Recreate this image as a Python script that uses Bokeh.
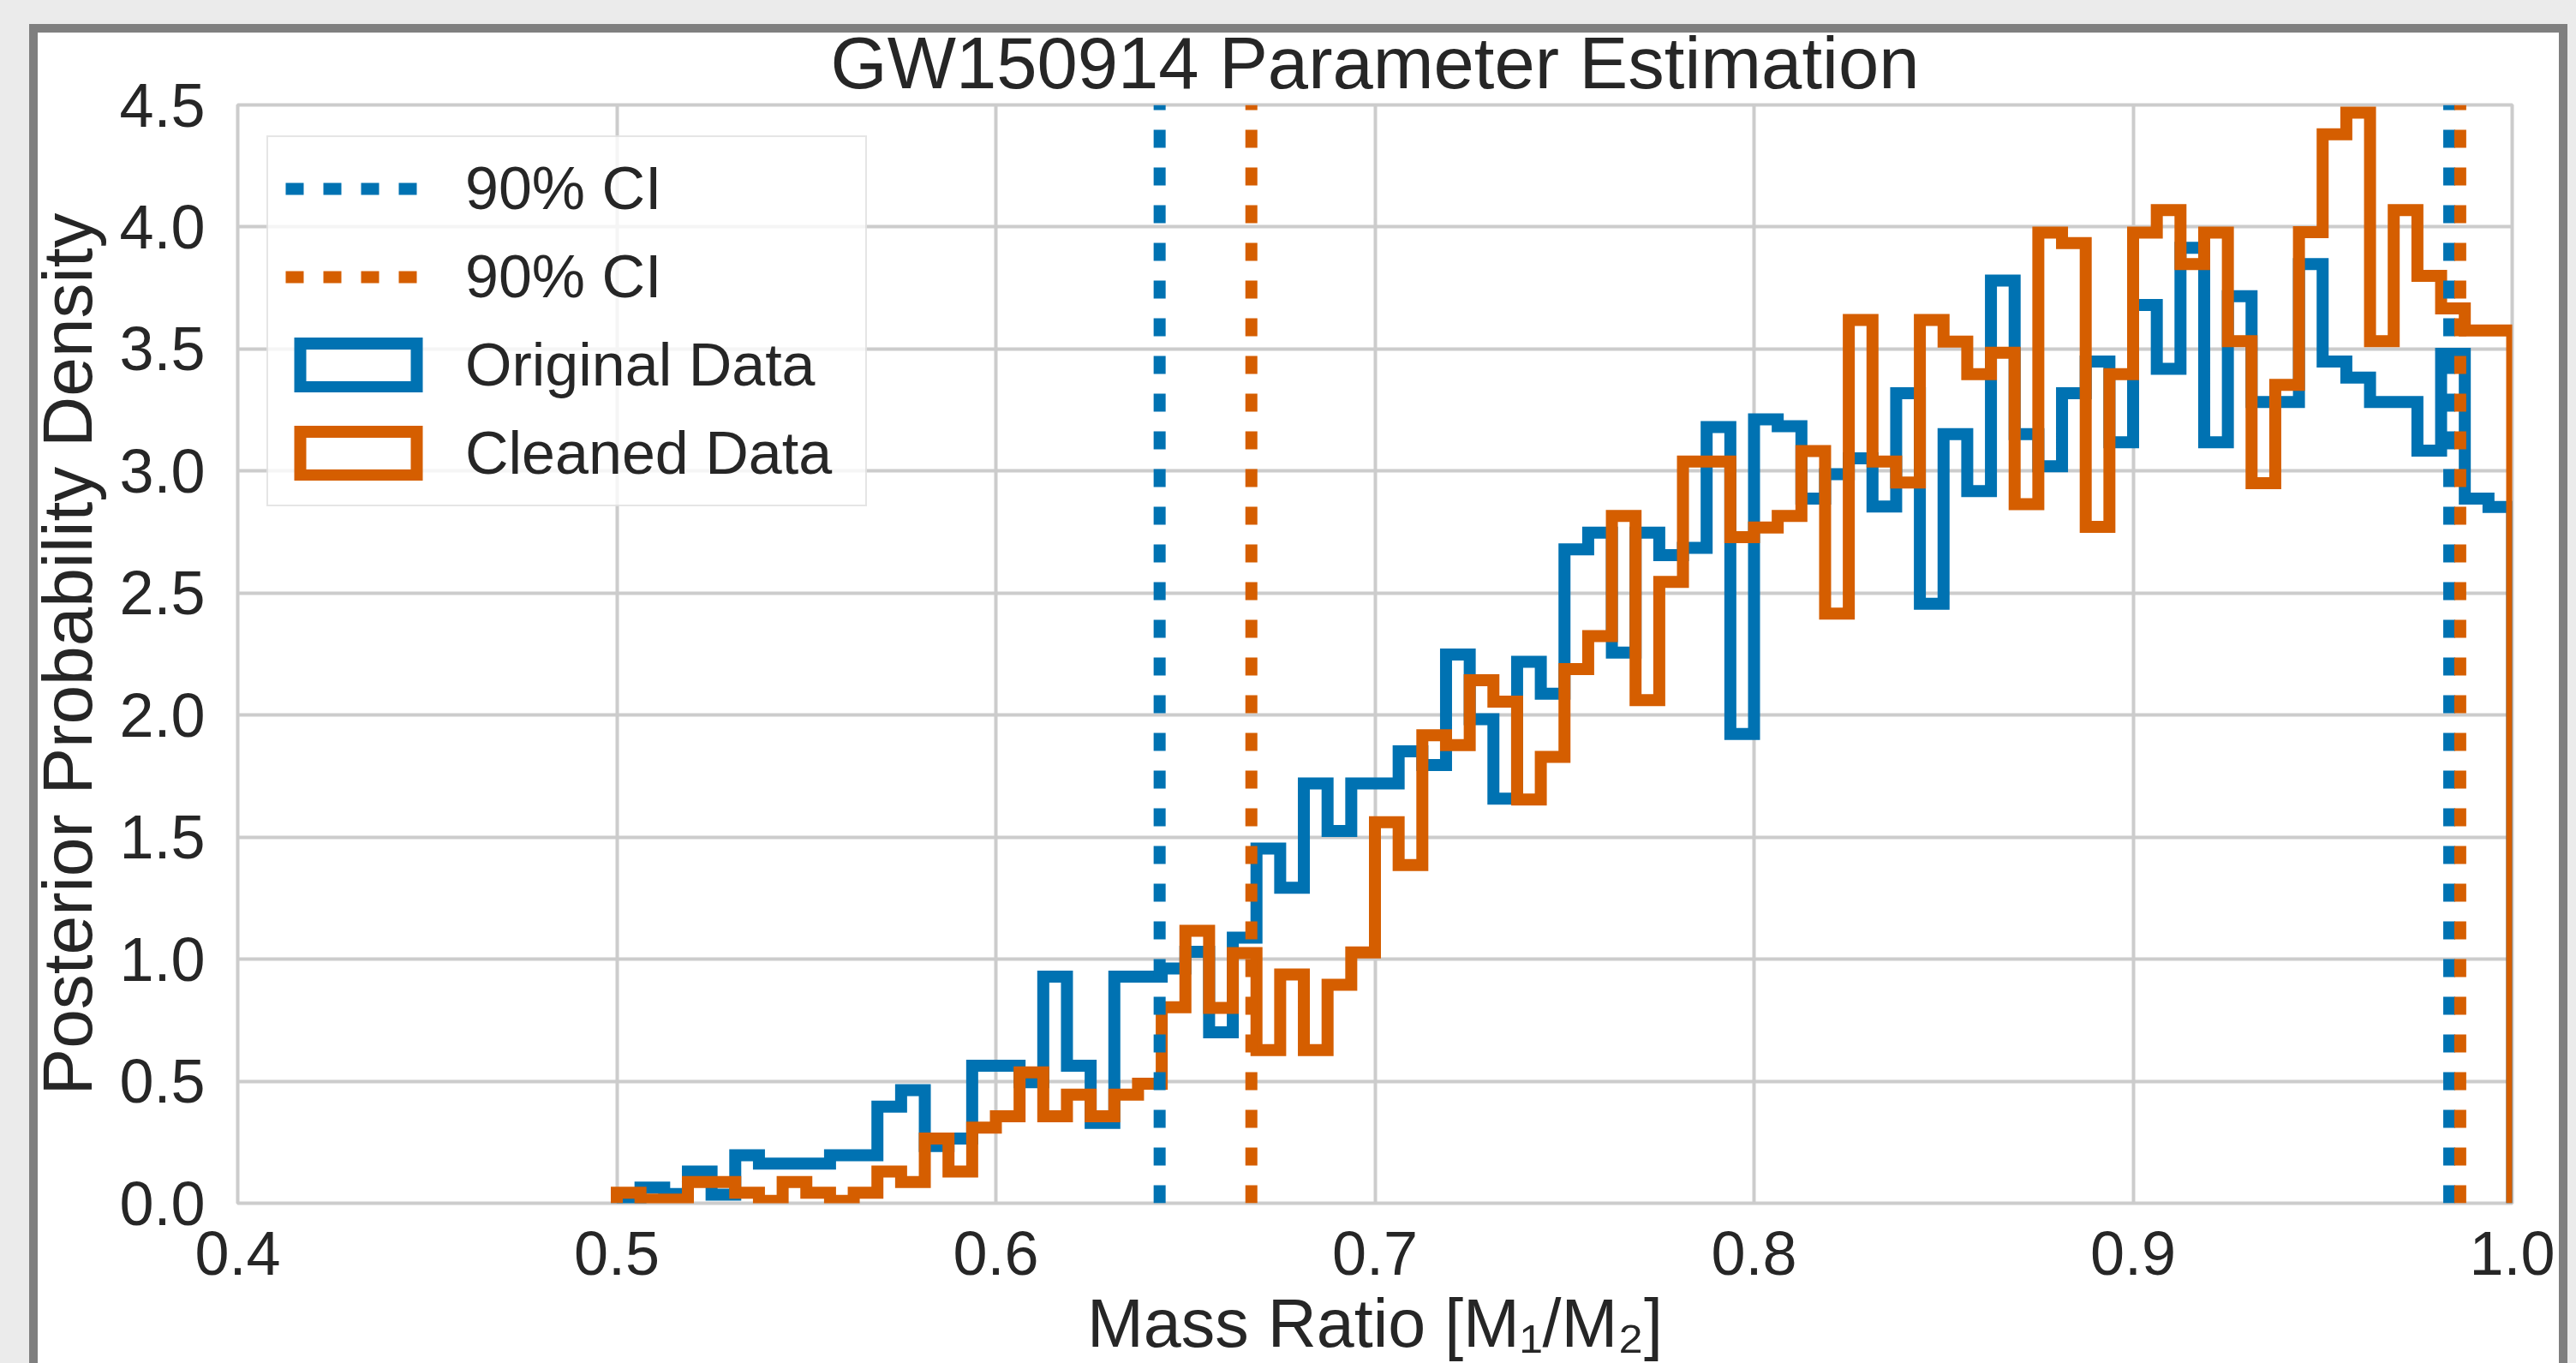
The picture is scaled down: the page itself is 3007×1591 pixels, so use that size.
import numpy as np
from bokeh.plotting import figure
from bokeh.models import (Range1d, FixedTicker, NumeralTickFormatter, Legend, LegendItem,
                          ColumnDataSource)
from bokeh.embed import file_html
from bokeh.resources import INLINE

# ---------------- data ----------------
bin_lo = 0.5
bin_hi = 1.0
n_bins = 80

original = [0.015, 0.064, 0.038, 0.13, 0.035, 0.197, 0.162, 0.162, 0.162, 0.197,
            0.197, 0.396, 0.463, 0.234, 0.265, 0.563, 0.563, 0.496, 0.928, 0.563,
            0.329, 0.928, 0.928, 0.962, 1.03, 0.70, 1.088, 1.453, 1.293, 1.72,
            1.525, 1.72, 1.72, 1.852, 1.795, 2.248, 1.983, 1.658, 2.218, 2.088,
            2.679, 2.748, 2.256, 2.748, 2.655, 2.685, 3.18, 1.923, 3.212, 3.184,
            2.887, 2.987, 3.052, 2.855, 3.319, 2.456, 3.151, 2.918, 3.78, 3.151,
            3.02, 3.319, 3.449, 3.118, 3.68, 3.419, 3.915, 3.118, 3.716, 3.283,
            3.283, 3.848, 3.449, 3.383, 3.283, 3.283, 3.084, 3.48, 2.887, 2.853]

cleaned = [0.043, 0.015, 0.015, 0.087, 0.087, 0.043, 0.01, 0.087, 0.043, 0.01,
           0.043, 0.13, 0.087, 0.265, 0.13, 0.31, 0.356, 0.536, 0.356, 0.445,
           0.356, 0.445, 0.49, 0.803, 1.116, 0.80, 1.025, 0.627, 0.937, 0.627,
           0.895, 1.028, 1.561, 1.386, 1.917, 1.877, 2.143, 2.055, 1.654, 1.829,
           2.189, 2.324, 2.816, 2.061, 2.546, 3.039, 3.039, 2.729, 2.769, 2.816,
           3.082, 2.416, 3.619, 3.039, 2.953, 3.619, 3.53, 3.397, 3.485, 2.864,
           3.977, 3.934, 2.771, 3.397, 3.977, 4.069, 3.848, 3.977, 3.532, 2.95,
           3.353, 3.979, 4.38, 4.468, 3.532, 4.069, 3.8, 3.666, 3.576, 3.576]

ci_original = [0.6432, 0.9834]
ci_cleaned = [0.6674, 0.9863]

x_ticks = [0.4, 0.5, 0.6, 0.7, 0.8, 0.9, 1.0]
y_ticks = [0.0, 0.5, 1.0, 1.5, 2.0, 2.5, 3.0, 3.5, 4.0, 4.5]

series_labels = ["Original Data", "Cleaned Data"]
ci_label = "90% CI"
title_text = "GW150914 Parameter Estimation"
x_label = "Mass Ratio [M\u2081/M\u2082]"
y_label = "Posterior Probability Density"

BLUE = "#0072b2"
ORANGE = "#d55e00"
TEXT = "#262626"
GRID = "#cccccc"
FONT = "Liberation Sans"

edges = np.linspace(bin_lo, bin_hi, n_bins + 1)


def step_outline(vals):
    xs = [edges[0]]
    ys = [0.0]
    for i, v in enumerate(vals):
        xs += [edges[i], edges[i + 1]]
        ys += [v, v]
    xs.append(edges[-1])
    ys.append(0.0)
    return xs, ys


x_lo, x_hi = x_ticks[0], x_ticks[-1]
y_lo, y_hi = y_ticks[0], y_ticks[-1]

p = figure(width=3007, height=1591, output_backend="svg", toolbar_location=None,
           x_range=Range1d(x_lo, x_hi), y_range=Range1d(y_lo, y_hi),
           min_border_left=277, min_border_right=75, min_border_top=122, min_border_bottom=186)

# page look: light grey surround, grey frame and white figure panel (painted behind a transparent canvas)
p.styles = {
    "background-image": ("linear-gradient(#ffffff, #ffffff), "
                         "linear-gradient(#7f7f7f, #7f7f7f), "
                         "linear-gradient(#ebebeb, #ebebeb)"),
    "background-position": "44px 38px, 34px 28px, 0px 0px",
    "background-size": "2943px 1600px, 2963px 1600px, 100% 100%",
    "background-repeat": "no-repeat",
}
p.border_fill_alpha = 0.0
p.background_fill_color = "white"
p.outline_line_color = GRID
p.outline_line_width = 4

# title
p.title.text = title_text
p.title.align = "center"
p.title.text_font = FONT
p.title.text_font_size = "85px"
p.title.text_font_style = "normal"
p.title.text_color = TEXT
p.title.standoff = 3

# axes
p.xaxis.ticker = FixedTicker(ticks=x_ticks)
p.yaxis.ticker = FixedTicker(ticks=y_ticks)
p.xaxis.formatter = NumeralTickFormatter(format="0.0")
p.yaxis.formatter = NumeralTickFormatter(format="0.0")
for ax in (p.xaxis, p.yaxis):
    ax.axis_line_color = None
    ax.major_tick_line_color = None
    ax.minor_tick_line_color = None
    ax.major_tick_out = 0
    ax.major_tick_in = 0
    ax.major_label_text_font = FONT
    ax.major_label_text_font_size = "72px"
    ax.major_label_text_color = TEXT
    ax.axis_label_text_font = FONT
    ax.axis_label_text_font_style = "normal"
    ax.axis_label_text_color = TEXT
p.xaxis.axis_label = x_label
p.yaxis.axis_label = y_label
p.xaxis.axis_label_text_font_size = "79px"
p.yaxis.axis_label_text_font_size = "82px"
p.xaxis.major_label_standoff = 33
p.yaxis.major_label_standoff = 38
p.xaxis.axis_label_standoff = 9
p.yaxis.axis_label_standoff = 12

p.xgrid.grid_line_color = GRID
p.ygrid.grid_line_color = GRID
p.xgrid.grid_line_width = 4
p.ygrid.grid_line_width = 4

# histograms as step outlines
xo, yo = step_outline(original)
xc, yc = step_outline(cleaned)
r_orig = p.line(xo, yo, line_color=BLUE, line_width=14, line_join="miter")
r_clean = p.line(xc, yc, line_color=ORANGE, line_width=14, line_join="miter")

# legend swatches: bin quads on an off-screen range (only their legend glyph shows)
p.extra_y_ranges = {"legend_only": Range1d(start=y_hi * 10, end=y_hi * 20)}


def legend_quads(vals, color):
    src = ColumnDataSource(dict(left=edges[:-1], right=edges[1:], top=list(vals),
                                bottom=[0.0] * len(vals)))
    return p.quad(left="left", right="right", top="top", bottom="bottom", source=src,
                  y_range_name="legend_only",
                  fill_alpha=0, line_color=color, line_width=14, line_join="miter")


q_orig = legend_quads(original, BLUE)
q_clean = legend_quads(cleaned, ORANGE)

# 90% CI lines
r_ci_o = p.segment(x0=ci_original, y0=[y_lo] * 2, x1=ci_original, y1=[y_hi] * 2,
                   line_color=BLUE, line_width=14, line_dash="21 23")
r_ci_c = p.segment(x0=ci_cleaned, y0=[y_lo] * 2, x1=ci_cleaned, y1=[y_hi] * 2,
                   line_color=ORANGE, line_width=14, line_dash="21 23")

legend = Legend(items=[
    LegendItem(label=ci_label, renderers=[r_ci_o]),
    LegendItem(label=ci_label, renderers=[r_ci_c]),
    LegendItem(label=series_labels[0], renderers=[q_orig]),
    LegendItem(label=series_labels[1], renderers=[q_clean]),
], location=(34, 813))
legend.padding = 20
legend.spacing = 23
legend.glyph_width = 170
legend.glyph_height = 64
legend.label_standoff = 40
legend.label_width = 447
legend.label_text_font = FONT
legend.label_text_font_size = "70px"
legend.label_text_color = TEXT
legend.border_line_color = GRID
legend.border_line_width = 2
legend.background_fill_color = "white"
legend.background_fill_alpha = 0.8
p.add_layout(legend)

open("out.html", "w").write(file_html(p, INLINE))
